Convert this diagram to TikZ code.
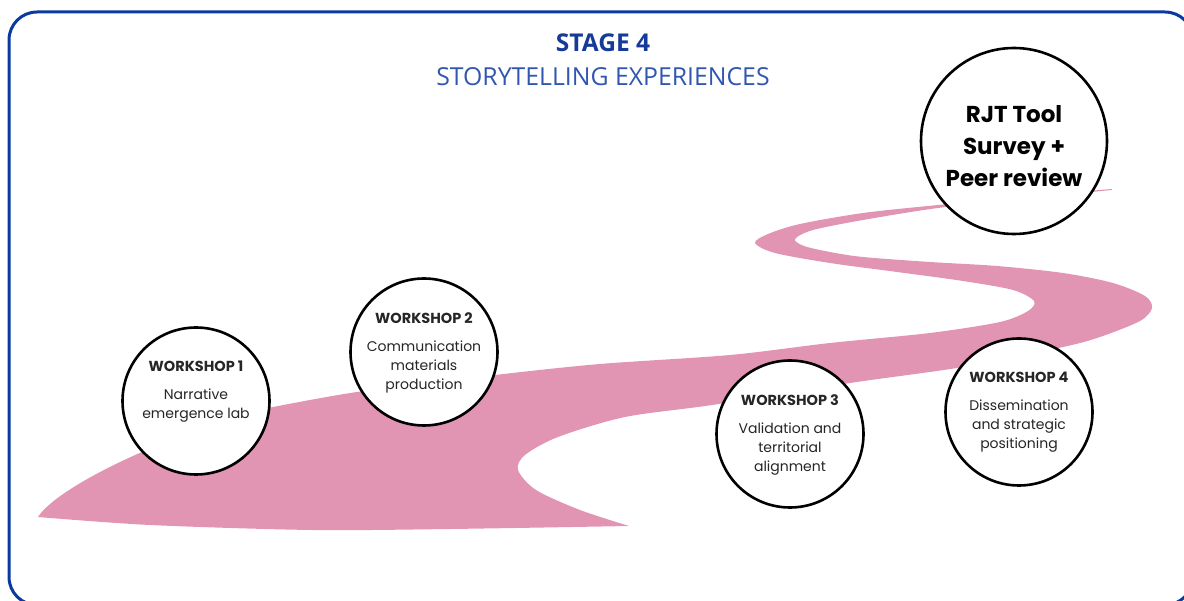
\documentclass[tikz,border=0pt]{standalone}
\usepackage{fontspec}
\setmainfont{Poppins}
\newfontfamily\headfont{Open Sans}
\definecolor{frameblue}{RGB}{10,58,160}
\definecolor{stageblue}{RGB}{22,58,152}
\definecolor{subblue}{RGB}{48,86,176}
\definecolor{roadpink}{RGB}{226,148,179}
\newcommand{\wshead}[1]{{\bfseries\fontsize{14.5}{19}\selectfont #1}}
\begin{document}
\begin{tikzpicture}[x=1pt, y=-1pt,
    ws/.style={circle, draw=black, line width=2.6pt, fill=white, minimum size=147pt, inner sep=0pt},
    wstext/.style={anchor=north, align=center, inner sep=0pt, text=black!85,
      font=\fontsize{14}{19}\selectfont},
    rjttext/.style={align=center, inner sep=0pt, font=\bfseries\fontsize{23}{32}\selectfont}]
  \useasboundingbox (0,0) rectangle (1184,601);
  \clip (0,0) rectangle (1184,601);
  \draw[frameblue, line width=3pt, rounded corners=28pt] (9,12) rectangle (1193,605);

  \node[font=\headfont\bfseries\fontsize{24.5}{28}\selectfont, text=stageblue] (stage) at (603,43) {STAGE 4};
  \node[font=\headfont\fontsize{24.8}{28}\selectfont, text=subblue] (story) at (603,77) {STORYTELLING EXPERIENCES};

  \fill[roadpink] (38,517) .. controls (55,490) and (150,440) .. (268,408)
    -- plot[smooth] coordinates {(268,408) (357,392)
      (495,375) (600,364) (730,355) (830,343) (930,333) (1000,322) (1028,311) (1034,301) (1013,290)
      (963,281) (897,272) (830,263) (775,253) (755,243) (768,234) (800,224) (863,213) (938,205)
      (1030,196) (1112,189)}
    -- plot[smooth] coordinates {(1112,190) (1030,198) (938,208) (863,220) (813,230) (795,239)
      (804,246) (830,252) (863,257) (930,262) (997,266) (1063,273) (1113,283) (1145,296) (1152,308)
      (1140,321) (1100,337) (1063,347) (963,367) (850,383) (712,405) (625,417) (558,437) (525,455)
      (518,470) (536,490) (580,510) (629,526)}
    -- plot[smooth] coordinates {(629,526) (450,529) (312,530) (150,525) (38,517)} -- cycle;

  \node[ws] (w1) at (196,401) {};
  \node[wstext] (w1t) at ([yshift=40pt]w1.center) {\wshead{WORKSHOP 1}\\[9pt]Narrative\\emergence lab};
  \node[ws] (w2) at (424,352) {};
  \node[wstext] (w2t) at ([yshift=40pt]w2.center) {\wshead{WORKSHOP 2}\\[9pt]Communication\\materials\\production};
  \node[ws] (w3) at (790,434) {};
  \node[wstext] (w3t) at ([yshift=40pt]w3.center) {\wshead{WORKSHOP 3}\\[9pt]Validation and\\territorial\\alignment};
  \node[ws] (w4) at (1019,412) {};
  \node[wstext] (w4t) at ([yshift=40pt]w4.center) {\wshead{WORKSHOP 4}\\[9pt]Dissemination\\and strategic\\positioning};
  \node[ws, minimum size=186pt] (rjt) at (1014,141) {};
  \node[rjttext] (rjtt) at (1014,146) {RJT Tool\\Survey +\\Peer review};
\end{tikzpicture}
\end{document}
